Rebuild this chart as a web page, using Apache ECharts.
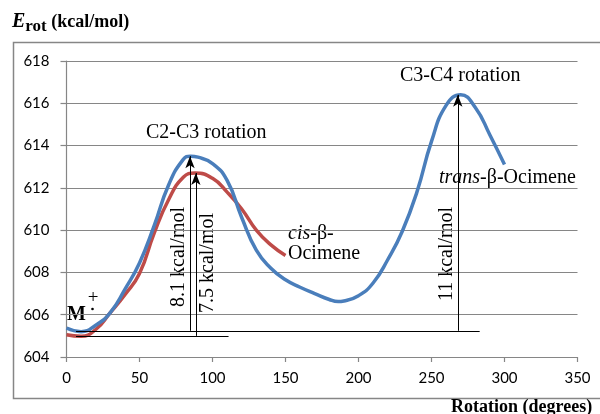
<!DOCTYPE html>
<html>
<head>
<meta charset="utf-8">
<script src="https://cdn.jsdelivr.net/npm/echarts@6/dist/echarts.min.js"></script>
<style>
  html, body { margin: 0; padding: 0; background: #fff; }
  #chart { width: 600px; height: 414px; }
</style>
</head>
<body>
<div id="chart"></div>
<script>
// rotation angle (degrees) and energy (kcal/mol)
var transAngle = [0, 10, 20, 30, 40, 50, 60, 70, 80, 85, 90, 100, 110, 120, 130, 140, 150, 160, 170, 180, 186, 190, 200, 210, 220, 230, 240, 250, 260, 270, 280, 290, 300];
var transEnergy = [605.37, 605.2, 605.5, 606.1, 607.2, 608.45, 610.2, 612.15, 613.35, 613.5, 613.45, 613.15, 612.35, 610.6, 609.05, 608.2, 607.65, 607.3, 607.0, 606.72, 606.62, 606.65, 606.9, 607.5, 608.6, 609.95, 611.8, 614.2, 615.9, 616.4, 615.8, 614.5, 613.1];
var cisAngle = [0, 10, 20, 30, 40, 50, 60, 70, 80, 88, 100, 110, 120, 130, 140, 150];
var cisEnergy = [605.05, 604.98, 605.3, 606.1, 606.95, 607.95, 609.85, 611.45, 612.5, 612.7, 612.45, 611.8, 611.0, 610.0, 609.3, 608.8];

var yTicks = [604, 606, 608, 610, 612, 614, 616, 618];
var xTicks = [0, 50, 100, 150, 200, 250, 300, 350];

// barrier arrows: [angle, base energy, top energy]
var baseTrans = 605.24, baseCis = 605.0;
var arrows = [[84.6, baseTrans, 613.5], [88.6, baseCis, 612.7], [268, baseTrans, 616.4]];

function pairs(xs, ys) {
    return xs.map(function (x, i) { return [x, ys[i]]; });
}

var chart = echarts.init(document.getElementById('chart'));

var serif = '"Liberation Serif", "DejaVu Serif", serif';
var gray = '#868686';

var markData = [
    [{coord: [6.5, baseTrans]}, {coord: [283, baseTrans]}],
    [{coord: [6.5, baseCis]}, {coord: [111, baseCis]}]
];
arrows.forEach(function (a) {
    markData.push([
        {coord: [a[0], a[1]], symbol: 'none'},
        {coord: [a[0], a[2]], symbol: 'arrow', symbolSize: [7, 12]}
    ]);
});

chart.setOption({
    animation: false,
    grid: {left: 66.5, right: 22.5, top: 61, bottom: 57},
    xAxis: {
        type: 'value', min: xTicks[0], max: xTicks[xTicks.length - 1], interval: 50,
        axisLine: {lineStyle: {color: gray, width: 1.2}},
        axisTick: {show: true, length: 5, lineStyle: {color: gray, width: 1.2}},
        axisLabel: {color: '#000', fontFamily: 'Lato', fontSize: 15, margin: 14},
        splitLine: {show: false}
    },
    yAxis: {
        type: 'value', min: yTicks[0], max: yTicks[yTicks.length - 1], interval: 2,
        axisLine: {show: true, lineStyle: {color: gray, width: 1.2}},
        axisTick: {show: true, length: 6, lineStyle: {color: gray, width: 1.2}},
        axisLabel: {color: '#000', fontFamily: 'Lato', fontSize: 15, margin: 17},
        splitLine: {lineStyle: {color: gray, width: 1.2}}
    },
    series: [
        {
            name: 'cis', type: 'line', smooth: 0.5, showSymbol: false,
            data: pairs(cisAngle, cisEnergy),
            lineStyle: {color: '#be4b48', width: 3.5}
        },
        {
            name: 'trans', type: 'line', smooth: 0.5, showSymbol: false,
            data: pairs(transAngle, transEnergy),
            lineStyle: {color: '#4a7ebb', width: 3.5}
        },
        {
            name: 'marks', type: 'line', data: [],
            markLine: {
                silent: true, animation: false,
                symbol: 'none',
                label: {show: false},
                lineStyle: {color: '#000', width: 1, type: 'solid'},
                data: markData
            }
        }
    ],
    graphic: [
        {type: 'rect', shape: {x: 13.5, y: 42.5, width: 620, height: 356}, style: {fill: 'none', stroke: gray, lineWidth: 1.5}, silent: true},
        {type: 'text', x: 12, y: 22, style: {
            text: '{e|E}{s|rot}{u| (kcal/mol)}', textVerticalAlign: 'middle',
            rich: {
                e: {fontFamily: serif, fontWeight: 'bold', fontStyle: 'italic', fontSize: 20},
                s: {fontFamily: serif, fontWeight: 'bold', fontSize: 17, padding: [9, 0, 0, 0]},
                u: {fontFamily: serif, fontWeight: 'bold', fontSize: 18}
            }
        }},
        {type: 'text', x: 451, y: 407, style: {text: 'Rotation (degrees)', font: 'bold 18px ' + serif, textVerticalAlign: 'middle'}},
        {type: 'text', x: 146, y: 133, style: {text: 'C2-C3 rotation', font: '20px ' + serif, textVerticalAlign: 'middle'}},
        {type: 'text', x: 400, y: 76, style: {text: 'C3-C4 rotation', font: '20px ' + serif, textVerticalAlign: 'middle'}},
        {type: 'text', x: 288, y: 234, style: {
            text: '{i|cis}{n|-β-}\n{n|Ocimene}', textVerticalAlign: 'top', y: -10,
            rich: {
                i: {fontFamily: serif, fontStyle: 'italic', fontSize: 20, lineHeight: 20},
                n: {fontFamily: serif, fontSize: 20, lineHeight: 20}
            }
        }},
        {type: 'text', x: 439, y: 178, style: {
            text: '{i|trans}{n|-β-Ocimene}', textVerticalAlign: 'middle',
            rich: {
                i: {fontFamily: serif, fontStyle: 'italic', fontSize: 20},
                n: {fontFamily: serif, fontSize: 20}
            }
        }},
        {type: 'text', x: 179, y: 257, rotation: Math.PI / 2, style: {text: '8.1 kcal/mol', font: '20px ' + serif, textAlign: 'center', textVerticalAlign: 'middle'}},
        {type: 'text', x: 208, y: 263, rotation: Math.PI / 2, style: {text: '7.5 kcal/mol', font: '20px ' + serif, textAlign: 'center', textVerticalAlign: 'middle'}},
        {type: 'text', x: 447, y: 254, rotation: Math.PI / 2, style: {text: '11 kcal/mol', font: '20px ' + serif, textAlign: 'center', textVerticalAlign: 'middle'}},
        {type: 'text', x: 67, y: 315, style: {text: 'M', font: 'bold 20px ' + serif, textVerticalAlign: 'middle'}},
        {type: 'text', x: 93, y: 298, style: {text: '+', font: '19px ' + serif, textAlign: 'center', textVerticalAlign: 'middle'}},
        {type: 'circle', shape: {cx: 92.5, cy: 309, r: 1.3}, style: {fill: '#000'}}
    ]
});
</script>
</body>
</html>
